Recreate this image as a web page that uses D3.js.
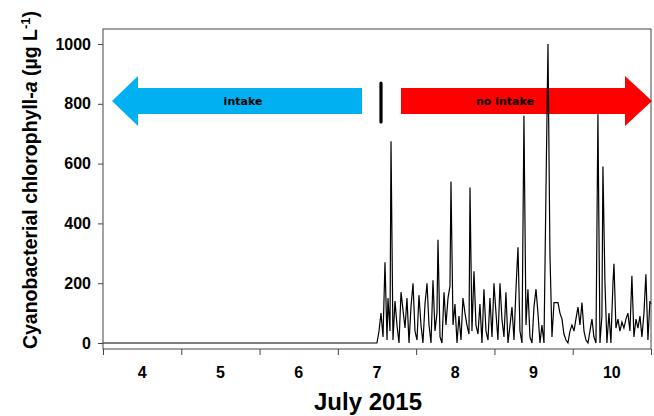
<!DOCTYPE html>
<html><head><meta charset="utf-8">
<script src="https://cdn.jsdelivr.net/npm/d3@7"></script>
<style>body{margin:0;background:#fff}svg{display:block}</style>
</head><body>
<script>
// Day of July 2015 (fractional) and cyanobacterial chlorophyll-a (µg/L)
const days = [4.0,7.499,7.526,7.551,7.577,7.602,7.628,7.640,7.666,7.679,7.704,7.730,7.755,7.781,7.807,7.832,7.858,7.883,7.909,7.934,7.960,7.985,8.011,8.036,8.062,8.087,8.113,8.139,8.164,8.190,8.215,8.241,8.266,8.279,8.305,8.330,8.356,8.381,8.407,8.432,8.445,8.471,8.496,8.522,8.547,8.573,8.598,8.624,8.649,8.675,8.688,8.713,8.739,8.764,8.790,8.815,8.841,8.866,8.892,8.918,8.943,8.969,8.994,9.020,9.045,9.071,9.096,9.122,9.147,9.173,9.199,9.224,9.250,9.275,9.301,9.326,9.352,9.377,9.403,9.428,9.454,9.480,9.505,9.531,9.556,9.582,9.607,9.633,9.658,9.684,9.709,9.735,9.761,9.812,9.837,9.863,9.888,9.914,9.939,9.965,9.990,10.016,10.041,10.067,10.093,10.118,10.144,10.169,10.195,10.220,10.246,10.271,10.297,10.322,10.348,10.373,10.386,10.412,10.437,10.463,10.488,10.514,10.527,10.552,10.578,10.603,10.629,10.654,10.680,10.705,10.731,10.756,10.782,10.808,10.833,10.859,10.884,10.910,10.935,10.961,10.986,10.999];
const chl = [0,0,40,100,20,270,10,150,40,675,10,140,60,0,170,110,50,150,0,120,200,40,10,160,60,0,130,200,60,0,210,40,100,345,20,0,170,60,150,190,540,60,130,0,90,10,150,100,60,30,520,40,240,60,30,130,0,180,40,10,150,20,200,100,10,200,80,20,170,0,60,120,10,180,320,40,0,760,60,180,20,0,120,180,100,0,60,0,500,1000,300,20,135,135,100,80,30,10,0,40,60,40,80,120,60,135,40,10,0,40,80,20,0,765,0,90,590,200,0,100,0,200,265,50,80,40,70,50,80,100,40,225,20,80,50,90,20,100,230,10,140,130];
const yTicks = [0,200,400,600,800,1000];
const xTicks = [4,5,6,7,8,9,10,11];
const xLabels = ["4","5","6","7","8","9","10"];
const arrowLabels = ["intake","no intake"];

const W = 654, H = 416;
const svg = d3.select("body").append("svg").attr("width", W).attr("height", H);
const L = 103, R = 651, T = 29, B = 349;
const x = d3.scaleLinear().domain([4, 11]).range([L, R]);
const y = d3.scaleLinear().domain([0, 1000]).range([343, 44]);

// arrows
const ay0 = 88, ay1 = 114, aTop = 76, aBot = 126, aMid = 101;
svg.append("path").attr("fill", "#00B0F0")
  .attr("d", `M112,${aMid} L138,${aTop} L138,${ay0} L362,${ay0} L362,${ay1} L138,${ay1} L138,${aBot} Z`);
svg.append("path").attr("fill", "#FF0000")
  .attr("d", `M401,${ay0} L625,${ay0} L625,${aTop} L652,${aMid} L625,${aBot} L625,${ay1} L401,${ay1} Z`);
svg.append("line").attr("x1", 381).attr("x2", 381).attr("y1", 83).attr("y2", 122)
  .attr("stroke", "#000").attr("stroke-width", 3.2).attr("stroke-linecap", "round");
svg.append("text").attr("x", 243).attr("y", 105).attr("text-anchor", "middle")
  .attr("font-family", "DejaVu Sans").attr("font-weight", "bold").attr("font-size", 11).text(arrowLabels[0]);
svg.append("text").attr("x", 505).attr("y", 105).attr("text-anchor", "middle")
  .attr("font-family", "DejaVu Sans").attr("font-weight", "bold").attr("font-size", 11).text(arrowLabels[1]);

// data line
const line = d3.line().x((d, i) => x(days[i])).y(d => y(d));
svg.append("path").datum(chl).attr("d", line).attr("fill", "none")
  .attr("stroke", "#000").attr("stroke-width", 1.2).attr("stroke-linejoin", "miter");

// frame
svg.append("rect").attr("x", L).attr("y", T).attr("width", R - L).attr("height", B - T)
  .attr("fill", "none").attr("stroke", "#444").attr("stroke-width", 1);

// y axis
const yAxis = d3.axisLeft(y).tickValues(yTicks).tickSize(5).tickPadding(7).tickFormat(d3.format("d"));
const gy = svg.append("g").attr("transform", `translate(${L},0)`).call(yAxis);
gy.select(".domain").remove();
gy.selectAll("line").attr("stroke", "#444");
gy.selectAll("text").attr("font-family", "Liberation Sans, Arial").attr("font-weight", "bold")
  .attr("font-size", 16).attr("fill", "#000");

// x axis
const xAxis = d3.axisBottom(x).tickValues(xTicks).tickSize(6).tickFormat("");
const gx = svg.append("g").attr("transform", `translate(0,${B})`).call(xAxis);
gx.select(".domain").remove();
gx.selectAll("line").attr("stroke", "#444");
svg.append("g").selectAll("text").data(xLabels).join("text")
  .attr("x", (d, i) => x(xTicks[i] + 0.5)).attr("y", 378).attr("text-anchor", "middle")
  .attr("font-family", "Liberation Sans, Arial").attr("font-weight", "bold").attr("font-size", 16)
  .text(d => d);

// x title
svg.append("text").attr("x", 368).attr("y", 410).attr("text-anchor", "middle")
  .attr("font-family", "Liberation Sans, Arial").attr("font-weight", "bold").attr("font-size", 24)
  .text("July 2015");

// y title
const yt = svg.append("text").attr("transform", "translate(37,180) rotate(-90)").attr("text-anchor", "middle")
  .attr("font-family", "Liberation Sans, Arial").attr("font-weight", "bold").attr("font-size", 19.5);
yt.append("tspan").text("Cyanobacterial chlorophyll-");
yt.append("tspan").attr("font-style", "italic").text("a");
yt.append("tspan").text(" (µg L");
yt.append("tspan").attr("font-size", 13).attr("dy", -7).text("-1");
yt.append("tspan").attr("dy", 7).text(")");
</script>
</body></html>
